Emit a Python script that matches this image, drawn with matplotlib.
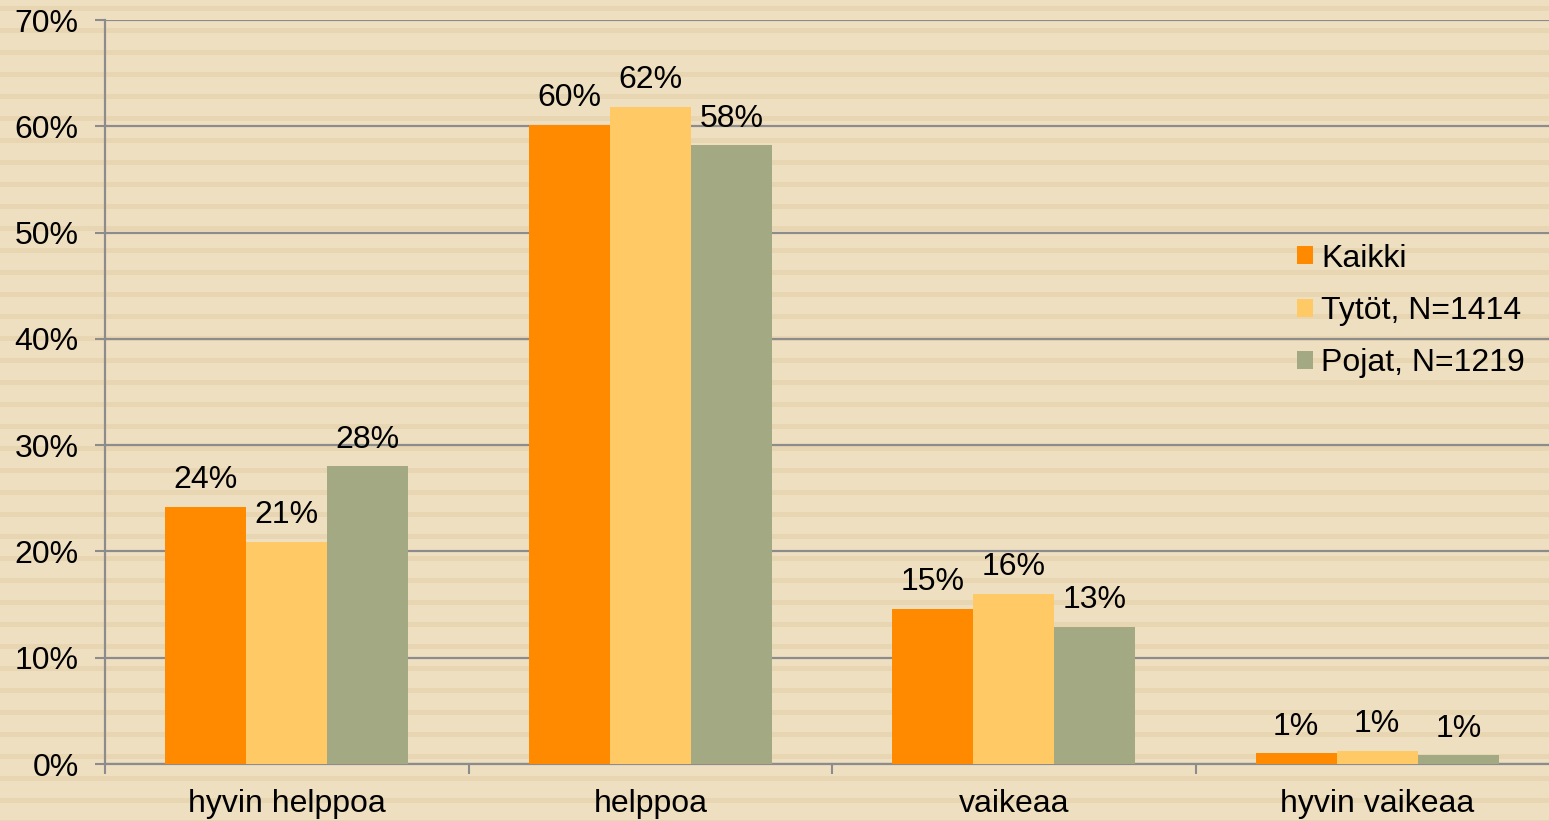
import numpy as np
import matplotlib.pyplot as plt

plt.rcParams['font.family'] = ['Liberation Sans', 'DejaVu Sans']

categories = ['hyvin helppoa', 'helppoa', 'vaikeaa', 'hyvin vaikeaa']
kaikki = [24.2, 60.1, 14.6, 1.0]
tytot = [20.9, 61.8, 16.0, 1.2]
pojat = [28.0, 58.2, 12.9, 0.8]
series = ['Kaikki', 'Tytöt, N=1414', 'Pojat, N=1219']
colors = ['#FF8A00', '#FFCA66', '#A3A982']

W, H = 1549, 821
fig = plt.figure(figsize=(W / 100, H / 100), dpi=100)
fig.patch.set_facecolor('#EFDFC1')

# striped paper background
bg = fig.add_axes([0, 0, 1, 1], zorder=-1)
bg.set_xlim(0, 1)
bg.set_ylim(H, 0)
bg.axis('off')
for y0 in np.arange(6, H, 22):
    bg.axhspan(y0, y0 + 5, color='#E8D6B2', lw=0)

ax = fig.add_axes([105 / W, 1 - 764 / H, (1559 - 105) / W, (764 - 20) / H])
ax.set_facecolor('none')

x = np.arange(len(categories))
bw = 0.223
for i, (vals, name, c) in enumerate(zip([kaikki, tytot, pojat], series, colors)):
    xs = x + (i - 1) * bw
    ax.bar(xs, vals, width=bw, color=c, label=name, zorder=3)
    for xi, v in zip(xs, vals):
        ax.annotate(f'{v:.0f}%', (xi, v), xytext=(0, 8.5), textcoords='offset points',
                    ha='center', va='bottom', fontsize=23, zorder=4)

ax.set_xlim(-0.5, len(categories) - 0.5)
ax.set_ylim(0, 70)
ax.set_yticks(np.arange(0, 71, 10))
ax.set_yticklabels([f'{v}%' for v in range(0, 71, 10)])
ax.grid(axis='y', color='#8C8C8C', lw=1.6, zorder=1)
ax.set_axisbelow(True)

ax.set_xticks(x)
ax.set_xticklabels(categories)
ax.set_xticks(np.arange(-0.5, len(categories)), minor=True)
ax.tick_params(axis='x', which='major', length=0, pad=18, labelsize=23)
ax.tick_params(axis='x', which='minor', length=7, width=1.5, color='#8C8C8C')
ax.tick_params(axis='y', length=7, width=1.5, color='#8C8C8C', pad=12, labelsize=23)

for s in ['top', 'right']:
    ax.spines[s].set_visible(False)
for s in ['left', 'bottom']:
    ax.spines[s].set_color('#8C8C8C')
    ax.spines[s].set_linewidth(1.6)

fig.legend(loc='center left', bbox_to_anchor=(1297 / W, 1 - 311 / H), frameon=False,
           fontsize=23, handlelength=0.5, handleheight=0.5, handletextpad=0.25,
           labelspacing=0.7, borderpad=0, borderaxespad=0)

fig.savefig('out.png', dpi=100, facecolor=fig.get_facecolor())
